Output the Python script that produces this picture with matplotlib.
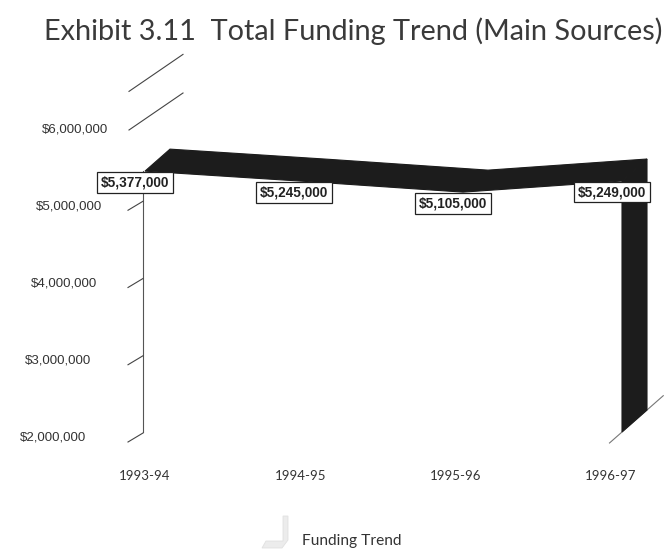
import matplotlib
matplotlib.use("Agg")
import matplotlib.pyplot as plt
from matplotlib.patches import Polygon

# ---- data ---------------------------------------------------------------
seasons = ["1993-94", "1994-95", "1995-96", "1996-97"]
funding = [5377000, 5245000, 5105000, 5249000]
tick_values = [2000000, 3000000, 4000000, 5000000, 6000000]
tick_labels = ["$2,000,000", "$3,000,000", "$4,000,000", "$5,000,000", "$6,000,000"]
extra_tick = 6500000
floor_value = 2000000
title = "Exhibit 3.11  Total Funding Trend (Main Sources)"
series_name = "Funding Trend"

# ---- figure / axes --------------------------------------------------------
W, H = 667, 554
fig = plt.figure(figsize=(W / 100, H / 100), dpi=100)
fig.patch.set_facecolor("white")
ax = fig.add_axes([0, 0, 1, 1])
ax.axis("off")

# category 0 sits at x=145 px, 159 px per category;
# $2M sits at y=432 px (from top), 77.25 px per million
ax.set_xlim((0 - 145) / 159, (W - 145) / 159)
ax.set_ylim(2e6 + (432 - H) / 77.25 * 1e6, 2e6 + 432 / 77.25 * 1e6)

# depth of the ribbon (pseudo 3-D), in data units
DX = 25 / 159
DY = 22 / 77.25 * 1e6


def nudge(x, y, dx_px, dy_px):
    """Move a data point by a pixel offset (dy_px positive = downwards)."""
    d = ax.transData.transform((x, y))
    return ax.transData.inverted().transform((d[0] + dx_px, d[1] - dy_px))


TXT = "#333333"
INK = "#1c1c1c"

# ---- left wall: front edge and value ticks -------------------------------
wall_x = nudge(0, floor_value, -2, 0)[0]
ax.plot([wall_x, wall_x], [floor_value, funding[0]], color="#555555", lw=0.8, zorder=1)

for v, lab in zip(tick_values, tick_labels):
    if v < 6000000:
        p0 = nudge(wall_x, v, -15, 10)
        p1 = nudge(wall_x, v, 0, 1)
    else:
        p0 = nudge(wall_x, v, -14, 7)
        p1 = nudge(wall_x, v, 40, -30)
    ax.plot([p0[0], p1[0]], [p0[1], p1[1]], color="#444444", lw=0.8, zorder=1)
    right_px = 86 + 5.5 * (v / 1e6 - 2)
    ax.annotate(lab, xy=(wall_x, v), xytext=(-(143 - right_px) * 0.72, -6 * 0.72),
                textcoords="offset points", ha="right", va="center",
                fontsize=9.5, family="Liberation Sans", color=TXT)

p0 = nudge(wall_x, extra_tick, -14, 7)
p1 = nudge(wall_x, extra_tick, 40, -30)
ax.plot([p0[0], p1[0]], [p0[1], p1[1]], color="#444444", lw=0.8, zorder=1)

# ---- floor edge on the right ----------------------------------------------
n = len(funding) - 1
ax.plot([n - 0.5 * DX, n + 1.65 * DX], [floor_value - 0.5 * DY, floor_value + 1.65 * DY],
        color="#777777", lw=0.8, zorder=1)

# ---- ribbon ---------------------------------------------------------------
xs = list(range(len(funding)))
front = list(zip(xs, funding))
back = [(x + DX, v + DY) for x, v in zip(xs, funding)]
ax.add_patch(Polygon(front + back[::-1], closed=True, facecolor=INK,
                     edgecolor=INK, lw=0.8, zorder=3))

# end face of the ribbon dropping to the floor
end_face = [(n, funding[-1]), (n, floor_value),
            (n + DX, floor_value + DY), (n + DX, funding[-1] + DY)]
ax.add_patch(Polygon(end_face, closed=True, facecolor=INK, edgecolor=INK,
                     lw=0.8, zorder=3))

# ---- value labels -----------------------------------------------------------
for x, v in zip(xs, funding):
    ax.annotate(f"${v:,}", xy=(x, v), xytext=(-10 * 0.72, -11 * 0.72),
                textcoords="offset points", ha="center", va="center",
                fontsize=9.8, fontweight="bold", family="Liberation Sans",
                color="#222222", zorder=5,
                bbox=dict(boxstyle="square,pad=0.25", facecolor="white",
                          edgecolor="#222222", lw=0.9))

# ---- category labels --------------------------------------------------------
for x, s in zip(xs, seasons):
    ax.annotate(s, xy=(x, floor_value), xytext=(-3.7 * x * 0.72, -44 * 0.72),
                textcoords="offset points", ha="center", va="center",
                fontsize=9.5, family="Lato", color=TXT)

# ---- title ------------------------------------------------------------------
fig.text(353.5 / W, 1 - 31 / H, title, ha="center", va="center",
         fontsize=20.8, family="Lato", color="#3a3a3a")

# ---- legend -----------------------------------------------------------------
fig.text(302 / W, 1 - 541 / H, series_name, ha="left", va="center",
         fontsize=11.2, family="Lato", color=TXT)
key = Polygon([(262 / W, 1 - 548 / H), (282 / W, 1 - 548 / H),
               (288 / W, 1 - 540 / H), (288 / W, 1 - 516 / H),
               (283 / W, 1 - 516 / H), (283 / W, 1 - 541 / H),
               (266 / W, 1 - 541 / H)],
              closed=True, transform=fig.transFigure, facecolor="#ececec",
              edgecolor="#e0e0e0", lw=0.6)
fig.patches.append(key)

fig.savefig("out.png", dpi=100, facecolor="white")
